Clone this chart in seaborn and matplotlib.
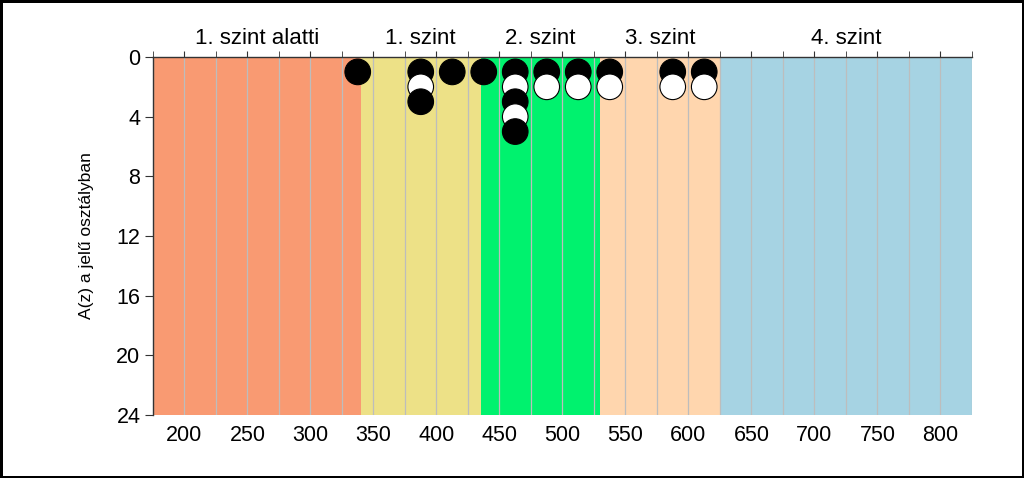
import numpy as np
import pandas as pd
import matplotlib
matplotlib.use("Agg")
import matplotlib.pyplot as plt
import matplotlib.transforms as mtransforms
import seaborn as sns

# pontszám-sávok közepe és a tanulók száma sávonként
scores = [337.5, 387.5, 412.5, 437.5, 462.5, 487.5, 512.5, 537.5, 587.5, 612.5]
counts = [1, 3, 1, 1, 5, 2, 2, 2, 2, 2]

# képességszintek határai és nevei
level_edges = [175, 340, 435, 530, 625, 825]
level_names = ["1. szint alatti", "1. szint", "2. szint", "3. szint", "4. szint"]
level_colors = ["#F99A72", "#EDE187", "#00F26E", "#FFD6AE", "#A6D3E3"]

y_ticks = [0, 4, 8, 12, 16, 20, 24]
x_labels = [200, 250, 300, 350, 400, 450, 500, 550, 600, 650, 700, 750, 800]

# pontok egymásra rakva, felváltva fekete / fehér
rows = []
for s, c in zip(scores, counts):
    for k in range(1, c + 1):
        rows.append({"pont": s, "db": k, "szin": "fekete" if k % 2 == 1 else "feher"})
df = pd.DataFrame(rows)

sns.set_style("white")
plt.rcParams["font.family"] = ["Liberation Sans", "DejaVu Sans"]
plt.rcParams["text.color"] = "black"
plt.rcParams["axes.labelcolor"] = "black"

fig = plt.figure(figsize=(10.24, 4.78), dpi=100, edgecolor="black", linewidth=2.5)
ax = fig.add_axes([0.1494, 0.1318, 0.7998, 0.749])

for i in range(len(level_names)):
    ax.axvspan(level_edges[i], level_edges[i + 1], color=level_colors[i], lw=0, zorder=0.5)

trans = mtransforms.blended_transform_factory(ax.transData, ax.transAxes)
for i, name in enumerate(level_names):
    mid = (level_edges[i] + level_edges[i + 1]) / 2
    ax.text(mid, 1.052, name, transform=trans, ha="center", va="center", fontsize=16)

sns.scatterplot(data=df, x="pont", y="db", hue="szin",
                palette={"fekete": "black", "feher": "white"},
                edgecolor="black", linewidth=0.8, s=340, legend=False, ax=ax, zorder=3)

ax.set_xlim(175, 825)
ax.set_ylim(24, 0)
ax.set_yticks(y_ticks)
ax.set_xticks(x_labels)
ax.set_xticks(np.arange(175, 826, 25), minor=True)
ax.tick_params(axis="x", which="both", bottom=False, top=True, labelbottom=True,
               labeltop=False, direction="out", length=4, color="#333333",
               labelsize=15.5, labelcolor="black", pad=3)
ax.tick_params(axis="y", left=True, direction="out", length=6, color="#333333",
               labelsize=15.5, labelcolor="black", pad=3)

ax.set_axisbelow("line")
ax.grid(axis="x", which="both", color="#BDBDBD", linewidth=0.9)
ax.grid(axis="y", visible=False)

for side in ["right", "bottom"]:
    ax.spines[side].set_visible(False)
for side in ["left", "top"]:
    ax.spines[side].set_color("#333333")
    ax.spines[side].set_linewidth(1)

ax.set_xlabel("")
ax.set_ylabel("A(z) a jelű osztályban", fontsize=12.5, labelpad=16)

fig.savefig("out.png", dpi=100)
